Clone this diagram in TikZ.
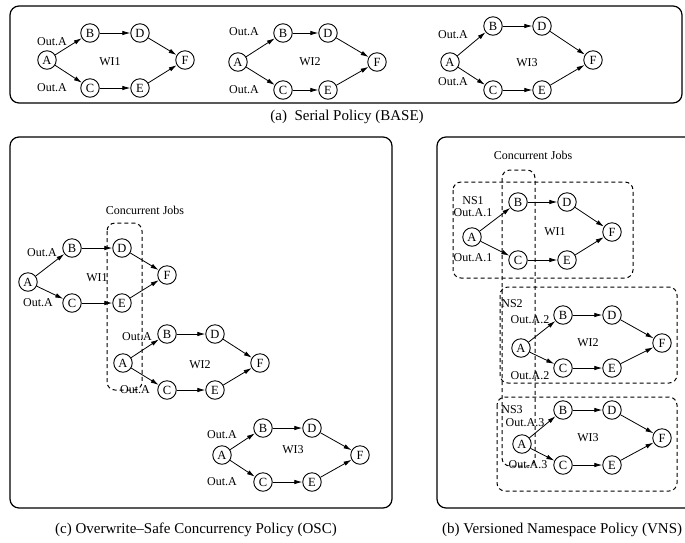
\documentclass[tikz,border=0pt]{standalone}
\usepackage{fontspec}
\setmainfont{Liberation Serif}
\usetikzlibrary{arrows.meta}
\tikzset{
  jobnode/.style={circle,draw,line width=0.9pt,minimum size=18.5pt,inner sep=0pt,font=\fontsize{12.5}{13}\selectfont},
  arr/.style={-{Latex[length=8pt,width=4.5pt]},line width=0.8pt},
  lbl/.style={inner sep=0pt,font=\fontsize{12}{12}\selectfont},
  captext/.style={inner sep=0pt,font=\fontsize{15}{15}\selectfont},
  panel/.style={draw,line width=1.2pt,rounded corners=9pt},
  dbox/.style={draw,line width=1pt,dash pattern=on 4pt off 3pt,rounded corners=8pt},
}
\newcommand{\flow}[7]{%
  \node[jobnode] (#1A) at #2 {A};
  \node[jobnode] (#1B) at #3 {B};
  \node[jobnode] (#1C) at #4 {C};
  \node[jobnode] (#1D) at #5 {D};
  \node[jobnode] (#1E) at #6 {E};
  \node[jobnode] (#1F) at #7 {F};
  \draw[arr] (#1A) -- (#1B);
  \draw[arr] (#1A) -- (#1C);
  \draw[arr] (#1B) -- (#1D);
  \draw[arr] (#1C) -- (#1E);
  \draw[arr] (#1D) -- (#1F);
  \draw[arr] (#1E) -- (#1F);
}
\begin{document}
\begin{tikzpicture}[x=1pt,y=-1pt]
\clip (0,0) rectangle (685,542);
\fill[white] (0,0) rectangle (685,542);
% panels
\draw[panel] (10,6) rectangle (682,103);
\draw[panel] (10,137) rectangle (392,508);
\draw[panel] (437,137) rectangle (720,508);
% captions
\node[captext] (capa) at (347,117) {(a)\ \ Serial Policy\ (BASE)};
\node[captext] (capc) at (196,530) {(c) Overwrite--Safe Concurrency Policy (OSC)};
\node[captext,anchor=west] (capb) at (442,530) {(b) Versioned Namespace Policy (VNS)};
% ---- (a) serial ----
\flow{ta}{(47,60)}{(90,33)}{(90,88)}{(140,33)}{(140,88)}{(185,60)}
\node[lbl] (taoa) at (52,42) {Out.A};
\node[lbl] (taob) at (52,88) {Out.A};
\node[lbl] (taw) at (110,62) {WI1};
\flow{tb}{(238,62)}{(283,33)}{(283,90)}{(328,33)}{(328,90)}{(377,62)}
\node[lbl] (tboa) at (244,32) {Out.A};
\node[lbl] (tbob) at (244,90) {Out.A};
\node[lbl] (tbw) at (310,62) {WI2};
\flow{tc}{(450,62)}{(493,26)}{(493,90)}{(542,26)}{(542,90)}{(593,60)}
\node[lbl] (tcoa) at (453,35) {Out.A};
\node[lbl] (tcob) at (453,82) {Out.A};
\node[lbl] (tcw) at (527,63) {WI3};
% ---- (c) OSC ----
\node[lbl] (cjc) at (145,210) {Concurrent Jobs};
\draw[dbox] (107,223) rectangle (142,390);
\flow{ca}{(28,282)}{(72,248)}{(72,303)}{(122,248)}{(122,303)}{(167,275)}
\node[lbl] (caoa) at (42,253) {Out.A};
\node[lbl] (caob) at (38,303) {Out.A};
\node[lbl] (caw) at (97,278) {WI1};
\flow{cb}{(123,363)}{(167,334)}{(167,390)}{(215,334)}{(215,390)}{(260,363)}
\node[lbl] (cboa) at (137,337) {Out.A};
\node[lbl] (cbob) at (135,390) {Out.A};
\node[lbl] (cbw) at (200,365) {WI2};
\flow{cc}{(222,455)}{(263,428)}{(263,482)}{(312,428)}{(312,482)}{(360,455)}
\node[lbl] (ccoa) at (222,435) {Out.A};
\node[lbl] (ccob) at (222,482) {Out.A};
\node[lbl] (ccw) at (293,450) {WI3};
% ---- (b) VNS ----
\node[lbl] (cjb) at (533,155) {Concurrent Jobs};
\draw[dbox] (453,182) rectangle (633,278);
\draw[dbox] (500,287) rectangle (677,383);
\draw[dbox] (497,397) rectangle (677,491);
\draw[dbox] (502,170) rectangle (535,466);
\flow{na}{(472,237)}{(518,202)}{(518,260)}{(567,202)}{(567,260)}{(612,232)}
\node[lbl] (nsa) at (473,201) {NS1};
\node[lbl] (naoa) at (473,213) {Out.A.1};
\node[lbl] (naob) at (473,258) {Out.A.1};
\node[lbl] (naw) at (555,232) {WI1};
\flow{nb}{(521,348)}{(563,315)}{(563,368)}{(612,315)}{(612,368)}{(662,343)}
\node[lbl] (nsb) at (512,304) {NS2};
\node[lbl] (nboa) at (530,320) {Out.A.2};
\node[lbl] (nbob) at (530,376) {Out.A.2};
\node[lbl] (nbw) at (588,343) {WI2};
\flow{nc}{(522,444)}{(563,410)}{(563,465)}{(612,410)}{(612,465)}{(662,438)}
\node[lbl] (nsc) at (512,410) {NS3};
\node[lbl] (ncoa) at (525,423) {Out.A.3};
\node[lbl] (ncob) at (528,465) {Out.A.3};
\node[lbl] (ncw) at (588,438) {WI3};
\end{tikzpicture}
\end{document}
